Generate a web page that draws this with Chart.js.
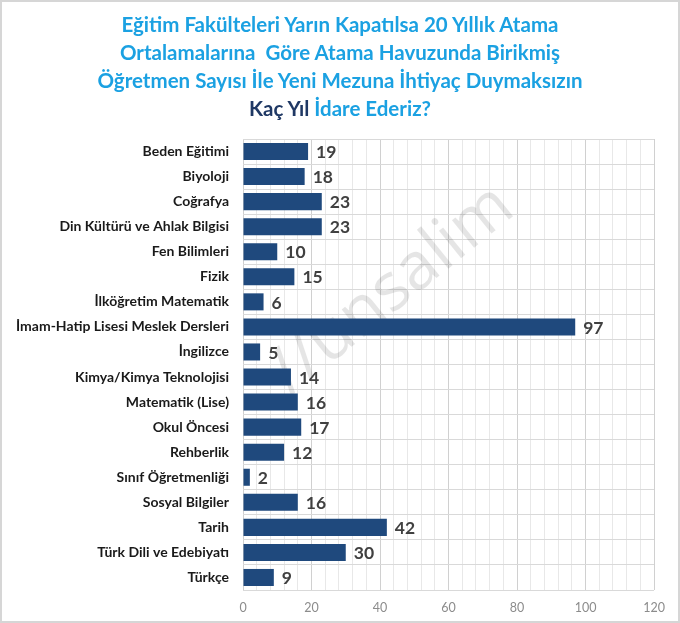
<!DOCTYPE html>
<html lang="tr">
<head>
<meta charset="utf-8">
<script src="https://cdn.jsdelivr.net/npm/chart.js@4"></script>
<style>
	html, body { margin: 0; padding: 0; background: #fff; }
	#wrap { position: relative; width: 680px; height: 623px; }
	#title {
		position: absolute; left: 0; top: 10px; width: 680px;
		text-align: center; font-family: Lato, "Noto Sans", sans-serif;
		font-weight: bold; font-size: 20.5px; line-height: 28px; color: #1ba1e2;
	}
	#title .dark { color: #1f3864; }
	canvas { position: absolute; left: 0; top: 0; }
</style>
</head>
<body>
<div id="wrap">
	<canvas id="chart" width="680" height="623"></canvas>
	<div id="title">
		Eğitim Fakülteleri Yarın Kapatılsa 20 Yıllık Atama<br>
		Ortalamalarına&nbsp; Göre Atama Havuzunda Birikmiş<br>
		Öğretmen Sayısı İle Yeni Mezuna İhtiyaç Duymaksızın<br>
		<span class="dark">Kaç Yıl</span> İdare Ederiz?
	</div>
</div>
<script>
const branches = [
	"Beden Eğitimi",
	"Biyoloji",
	"Coğrafya",
	"Din Kültürü ve Ahlak Bilgisi",
	"Fen Bilimleri",
	"Fizik",
	"İlköğretim Matematik",
	"İmam-Hatip Lisesi Meslek Dersleri",
	"İngilizce",
	"Kimya/Kimya Teknolojisi",
	"Matematik (Lise)",
	"Okul Öncesi",
	"Rehberlik",
	"Sınıf Öğretmenliği",
	"Sosyal Bilgiler",
	"Tarih",
	"Türk Dili ve Edebiyatı",
	"Türkçe",
];
const years = [19, 18, 23, 23, 10, 15, 6, 97, 5, 14, 16, 17, 12, 2, 16, 42, 30, 9];

// value labels at the end of each bar
const valueLabels = {
	id: "valueLabels",
	afterDatasetsDraw(chart) {
		const ctx = chart.ctx;
		const meta = chart.getDatasetMeta(0);
		ctx.save();
		ctx.font = "bold 17.5px Lato, 'Noto Sans', sans-serif";
		ctx.fillStyle = "#404040";
		ctx.textAlign = "left";
		ctx.textBaseline = "middle";
		meta.data.forEach((bar, i) => {
			ctx.fillText(String(years[i]), bar.x + 8, bar.y + 1);
		});
		ctx.restore();
	},
};

// faint watermark and outer frame
const frame = {
	id: "frame",
	beforeDatasetsDraw(chart) {
		const ctx = chart.ctx;
		ctx.save();
		ctx.translate(392, 290);
		ctx.rotate(-39 * Math.PI / 180);
		ctx.font = "66px 'Open Sans', sans-serif";
		ctx.fillStyle = "rgba(0,0,0,0.1)";
		ctx.textAlign = "center";
		ctx.textBaseline = "middle";
		ctx.fillText("//unsalim", 0, 0);
		ctx.restore();
	},
	afterDraw(chart) {
		const ctx = chart.ctx;
		ctx.save();
		ctx.strokeStyle = "#d6d6d6";
		ctx.lineWidth = 2;
		ctx.strokeRect(1, 1, 678, 621);
		ctx.restore();
	},
};

new Chart(document.getElementById("chart"), {
	type: "bar",
	data: {
		labels: branches,
		datasets: [
			{
				data: years,
				backgroundColor: "#1f497d",
				borderColor: "#1f497d",
				borderWidth: 0,
				categoryPercentage: 1,
				barPercentage: 0.68,
			},
		],
	},
	options: {
		indexAxis: "y",
		responsive: false,
		animation: false,
		layout: { padding: { top: 139, right: 26, left: 0, bottom: 0 } },
		scales: {
			x: {
				min: 0,
				max: 120,
				afterFit: (scale) => { scale.height = 33; },
				border: { display: false },
				grid: {
					color: (c) => (c.tick && c.tick.value % 20 === 0 ? "#d0d0d0" : "#e8e8e8"),
					drawTicks: false,
				},
				ticks: {
					stepSize: 4,
					autoSkip: false,
					maxRotation: 0,
					padding: 10,
					color: "#8c8c8c",
					font: { size: 12.5, family: "Lato, 'Noto Sans', sans-serif" },
					callback: (v) => (v % 20 === 0 ? String(v) : ""),
				},
			},
			y: {
				afterFit: (scale) => { scale.width = 243; },
				border: { display: false },
				grid: { offset: true, color: "#d9d9d9", drawTicks: false },
				ticks: {
					padding: 14,
					color: "#1a1a1a",
					font: { size: 14, weight: "bold", family: "Lato, 'Noto Sans', sans-serif" },
				},
			},
		},
		plugins: {
			legend: { display: false },
			tooltip: { enabled: false },
		},
	},
	plugins: [valueLabels, frame],
});
</script>
</body>
</html>
